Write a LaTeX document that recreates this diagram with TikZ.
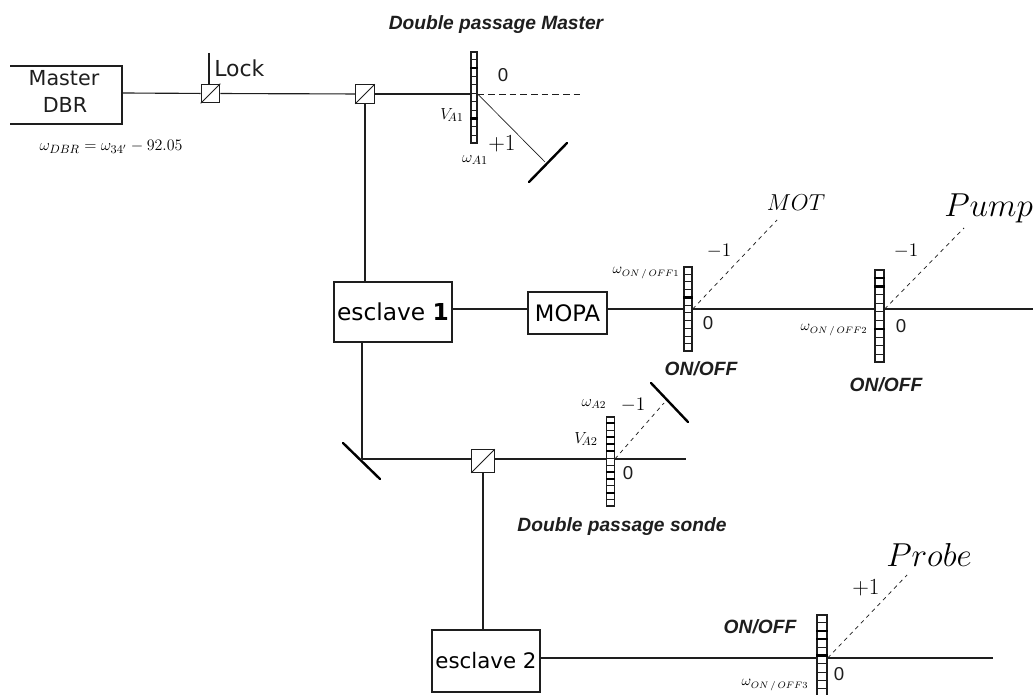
\documentclass[tikz,border=0pt]{standalone}
\usepackage{fontspec}
\setmainfont{Liberation Sans}
\newfontfamily\boxfont{DejaVu Sans}
\usetikzlibrary{calc}
\definecolor{ink}{HTML}{1E1E1E}
\tikzset{
 beam/.style={draw=ink,line width=0.85pt},
 order/.style={draw=ink,line width=0.55pt,dash pattern=on 3pt off 3pt},
 orderfine/.style={draw=ink,line width=0.5pt},
 mirror/.style={draw=black,line width=1.8pt,line cap=round},
 cube/.style={draw=ink,line width=0.8pt,minimum size=14pt,inner sep=0pt,fill=white},
 laser/.style={draw=ink,line width=0.8pt,fill=white,inner sep=0pt},
 aombox/.style={draw=ink,line width=1pt,inner sep=0pt,fill=white},
 title/.style={font=\fontsize{14.4}{16}\selectfont\bfseries\itshape,text=ink,inner sep=0pt},
 lbl/.style={font=\boxfont\fontsize{15.5}{18}\selectfont,text=ink,inner sep=0pt},
 mathlbl/.style={text=black,inner sep=0pt},
 zero/.style={font=\fontsize{14}{16}\selectfont,text=ink,inner sep=0pt},
}
% name, top, bottom, cells, width, centre, dark dividers
\newcommand{\aomstrip}[7]{%
 \node[aombox,minimum width=#5*0.75pt,minimum height={(#3-#2)*0.75pt}] (#1) at (#6) {};
 \foreach \k in {1,...,#4}{
   \draw[ink,line width=0.7pt] ($(#1.north west)!{\k/(#4+1)}!(#1.south west)$) -- ($(#1.north east)!{\k/(#4+1)}!(#1.south east)$);
 }
 \foreach \k in {#7}{
   \draw[black,line width=1.8pt] ($(#1.north west)!{\k/(#4+1)}!(#1.south west)$) -- ($(#1.north east)!{\k/(#4+1)}!(#1.south east)$);
 }}
\begin{document}
\begin{tikzpicture}[x=0.75pt,y=-0.75pt]
\useasboundingbox (0,0) rectangle (1033,695);
\fill[white] (0,0) rectangle (1033,695);

% Lasers
\coordinate (mtl) at (10,66);\coordinate (mtr) at (122,66);\coordinate (mbr) at (122,124);\coordinate (mbl) at (10,124);
\draw[draw=ink,line width=0.9pt] (mtl) -- (mtr) -- (mbr) -- (mbl);
\node[lbl] (mastertxt) at (64,78) {Master};
\node[lbl] (dbrtxt) at (65,105) {DBR};
\coordinate (master) at (122,93);
\node[laser,line width=1.3pt,minimum width=88.5pt,minimum height=45pt,font=\boxfont\fontsize{17.5}{19}\selectfont] (esc1) at (393,312) {esclave \textbf{1}};
\node[laser,minimum width=59.25pt,minimum height=31.5pt,font=\boxfont\fontsize{17}{19}\selectfont] (mopa) at (567.5,313) {MOPA};
\node[laser,minimum width=81pt,minimum height=46.5pt,font=\boxfont\fontsize{16}{19}\selectfont] (esc2) at (486,661) {esclave 2};

% Cubes
\node[cube] (c1) at (210.5,93.5) {};
\node[cube] (c2) at (365,94) {};
\node[cube,minimum size=17pt] (c3) at (483,461) {};
\coordinate (lockend) at (209,53);
\coordinate (lockb) at (209,84);

% AOM strips
\aomstrip{a1}{52}{143}{10}{6}{474,97.5}{2,8}
\aomstrip{on1}{267}{351}{10}{8}{688,309}{4}
\aomstrip{on2}{270}{362}{10}{9}{879.5,316}{1,2,7}
\aomstrip{a2}{417}{506}{12}{7.5}{610.5,461.5}{1,3,4,5,8,9,11}
\aomstrip{on3}{615}{696}{9}{10}{822,655.5}{2,3,5}

% beams
\coordinate (rightend) at (1033,309);
\draw[beam] (master) -- (c1);
\draw[beam] (lockend) -- (lockb);
\draw[beam] (c1) -- (c2);
\draw[beam] (c2) -- (c2 -| a1.west);
\draw[beam] (c2) -- (c2 |- esc1.north);
\draw[beam] (esc1.east |- rightend) -- (mopa.west |- rightend);
\draw[beam] (mopa.east |- rightend) -- (on1.west |- rightend);
\draw[beam] (on1.east |- rightend) -- (on2.west |- rightend);
\draw[beam] (on2.east |- rightend) -- (rightend);
\coordinate (m2) at (362,459);
\draw[beam] (m2 |- esc1.south) -- (m2);
\draw[beam] (m2) -- (c3.west |- m2);
\draw[beam] (c3.east |- m2) -- (a2.west |- m2);
\coordinate (a2end) at (686,459);
\draw[beam] (a2.east |- a2end) -- (a2end);
\draw[beam] (c3) -- (c3 |- esc2.north);
\coordinate (on3end) at (993,658);
\draw[beam] (esc2.east |- on3end) -- (on3.west |- on3end);
\draw[beam] (on3.east |- on3end) -- (on3end);

% cube diagonals
\foreach \c in {c1,c2,c3}{\draw[ink,line width=0.6pt] (\c.south west) -- (\c.north east);}

% diffraction orders
\coordinate (a1o) at (a1.east |- c2);
\coordinate (a10) at (580,94);
\draw[order,dash pattern=on 5pt off 3pt] (a1o) -- (a10);
\coordinate (m1) at (545,162);
\draw[orderfine] (a1o) -- (m1);
\coordinate (m1a) at (529,182);\coordinate (m1b) at (567,143);
\draw[mirror] (m1a) -- (m1b);
\coordinate (motend) at (777,220);
\draw[order] (on1.east |- rightend) -- (motend);
\coordinate (pumpend) at (964,228);
\draw[order] (on2.east |- rightend) -- (pumpend);
\coordinate (a2m) at (664,403);
\draw[order] (a2.east |- a2end) -- (a2m);
\coordinate (m3a) at (651,383);\coordinate (m3b) at (688,422);
\draw[mirror] (m3a) -- (m3b);
\coordinate (m2a) at (343,443);\coordinate (m2b) at (380,479);
\draw[mirror] (m2a) -- (m2b);
\coordinate (probeend) at (907,575);
\draw[order] (on3.east |- on3end) -- (probeend);

% Labels
\node[title] (t1) at (496,25) {Double passage Master};
\node[title] (t2) at (622,527) {Double passage sonde};
\node[title] (t3) at (701,369) {ON/OFF};
\node[title] (t4) at (886,385) {ON/OFF};
\node[title] (t5) at (760,627) {ON/OFF};
\node[lbl,anchor=west,font=\boxfont\fontsize{16.5}{18}\selectfont] (lock) at (214,68) {Lock};
\node[mathlbl] (w1) at (111,147) {\fontsize{12.8}{15}\selectfont$\omega_{DBR}=\omega_{34'}-92.05$};
\node[zero] (z1) at (503,75) {0};
\node[mathlbl] (va1) at (452,115) {\fontsize{13}{15}\selectfont$V_{\!A1}$};
\node[mathlbl] (wa1) at (475,160) {\fontsize{13}{15}\selectfont$\omega_{A1}$};
\node[mathlbl] (p1a) at (502,144) {\fontsize{19}{21}\selectfont$+1$};
\node[mathlbl] (motl) at (796,203) {\fontsize{17.5}{19}\selectfont$MOT$};
\node[mathlbl,anchor=west] (pumpl) at (944,208) {\fontsize{27}{29}\selectfont$Pump$};
\node[mathlbl] (m1l) at (719,251) {\fontsize{15}{18}\selectfont$-1$};
\node[mathlbl] (m2l) at (906,251) {\fontsize{15}{18}\selectfont$-1$};
\node[mathlbl] (won1) at (646,273) {\fontsize{10.5}{13}\selectfont$\omega_{ON\,/\,OFF1}$};
\node[mathlbl] (won2) at (834,330) {\fontsize{10.5}{13}\selectfont$\omega_{ON\,/\,OFF2}$};
\node[zero] (z2) at (708,323) {0};
\node[zero] (z3) at (901,326) {0};
\node[mathlbl] (wa2) at (594,404) {\fontsize{12}{14}\selectfont$\omega_{A2}$};
\node[mathlbl] (va2) at (586,439) {\fontsize{13}{15}\selectfont$V_{\!A2}$};
\node[mathlbl] (m3l) at (633,405) {\fontsize{15}{18}\selectfont$-1$};
\node[zero] (z4) at (628,473) {0};
\node[mathlbl] (pl) at (929,555) {\fontsize{28}{30}\selectfont$Probe$};
\node[mathlbl] (p1b) at (866,588) {\fontsize{17}{18}\selectfont$+1$};
\node[mathlbl] (won3) at (775,685) {\fontsize{10.5}{13}\selectfont$\omega_{ON\,/\,OFF3}$};
\node[zero] (z5) at (839,674) {0};
\end{tikzpicture}
\end{document}
